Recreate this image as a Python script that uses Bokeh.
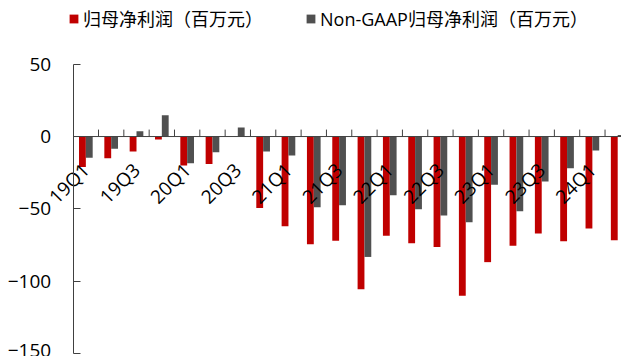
import math
from bokeh.plotting import figure
from bokeh.models import Range1d, FixedTicker, Legend, LegendItem, ColumnDataSource
from bokeh.embed import file_html
from bokeh.resources import INLINE

quarters = ["19Q1", "19Q2", "19Q3", "19Q4", "20Q1", "20Q2", "20Q3", "20Q4",
            "21Q1", "21Q2", "21Q3", "21Q4", "22Q1", "22Q2", "22Q3", "22Q4",
            "23Q1", "23Q2", "23Q3", "23Q4", "24Q1", "24Q2"]
net_profit = [-21, -15, -10.4, -2, -20, -18.9, 0, -49.3, -62, -74.4, -72.1, -105.5,
              -68.6, -73.7, -76.3, -110, -86.8, -75.5, -67, -72.3, -63.6, -71.7]
non_gaap = [-14.7, -8.5, 3.7, 14.7, -18.4, -10.8, 6.2, -10.4, -13.1, -48.8, -47.4, -83.2,
            -40.5, -50.2, -54.6, -59.2, -33.4, -51.6, -31.1, -21.9, -9.7, 1]
y_ticks = [-150, -100, -50, 0, 50]
label1 = "归母净利润（百万元）"
label2 = "Non-GAAP归母净利润（百万元）"

RED = "#C00000"
GRAY = "#505050"
AX = "#404040"
LEG_FONT = "Open Sans, Noto Sans CJK SC"

n = len(quarters)
idx = list(range(n))
bw = 0.27
src = ColumnDataSource(dict(
    xr=[i + 0.5 - bw / 2 for i in idx],
    xg=[i + 0.5 + bw / 2 for i in idx],
    red=net_profit, gray=non_gaap,
))

# the plotting frame covers the whole canvas; axes are pinned at x=0 / y=0
p = figure(width=621, height=356, output_backend="svg", toolbar_location=None,
           x_range=Range1d(-2.87, 21.65), y_range=Range1d(-152, 94),
           min_border=0)
p.outline_line_color = None
p.grid.visible = False

r1 = p.vbar(x="xr", top="red", bottom=0, width=bw, source=src, fill_color=RED, line_color=None)
r2 = p.vbar(x="xg", top="gray", bottom=0, width=bw, source=src, fill_color=GRAY, line_color=None)

# category axis line at zero with upward tick marks at category boundaries
p.segment(x0=[0], x1=[n], y0=[0], y1=[0], line_color=AX, line_width=1)
bounds = [i + 1 for i in idx]
p.segment(x0=bounds, x1=bounds, y0=[0] * n, y1=[4.8] * n, line_color=AX, line_width=1)

# category labels (every other quarter), rotated 45 degrees, on an axis pinned at y=0
lab_idx = idx[::2]
xa = p.xaxis[0]
xa.fixed_location = 0
xa.ticker = FixedTicker(ticks=[i + 0.5 for i in lab_idx])
xa.major_label_overrides = {i + 0.5: quarters[i] for i in lab_idx}
xa.major_label_orientation = math.pi / 4
xa.axis_line_color = None
xa.major_tick_line_color = None
xa.minor_tick_line_color = None
xa.major_label_standoff = 24
xa.major_label_text_font = "Open Sans"
xa.major_label_text_font_size = "19px"
xa.major_label_text_color = "black"

ya = p.yaxis[0]
ya.fixed_location = 0
ya.bounds = (-150, 50)
ya.ticker = FixedTicker(ticks=y_ticks)
ya.minor_tick_line_color = None
ya.major_tick_in = 7
ya.major_tick_out = 0
ya.axis_line_color = AX
ya.major_tick_line_color = AX
ya.major_label_standoff = 22
ya.major_label_text_font = "Open Sans"
ya.major_label_text_font_size = "19px"
ya.major_label_text_color = "black"

legend = Legend(items=[LegendItem(label=label1, renderers=[r1]),
                       LegendItem(label=label2, renderers=[r2])],
                location=(68, 325), orientation="horizontal",
                glyph_width=11, glyph_height=11, label_standoff=4, spacing=42,
                padding=0, margin=0, border_line_color=None, background_fill_alpha=0,
                label_text_font=LEG_FONT, label_text_font_size="18px",
                label_text_color="black")
p.add_layout(legend)

open("out.html", "w").write(file_html(p, INLINE))
